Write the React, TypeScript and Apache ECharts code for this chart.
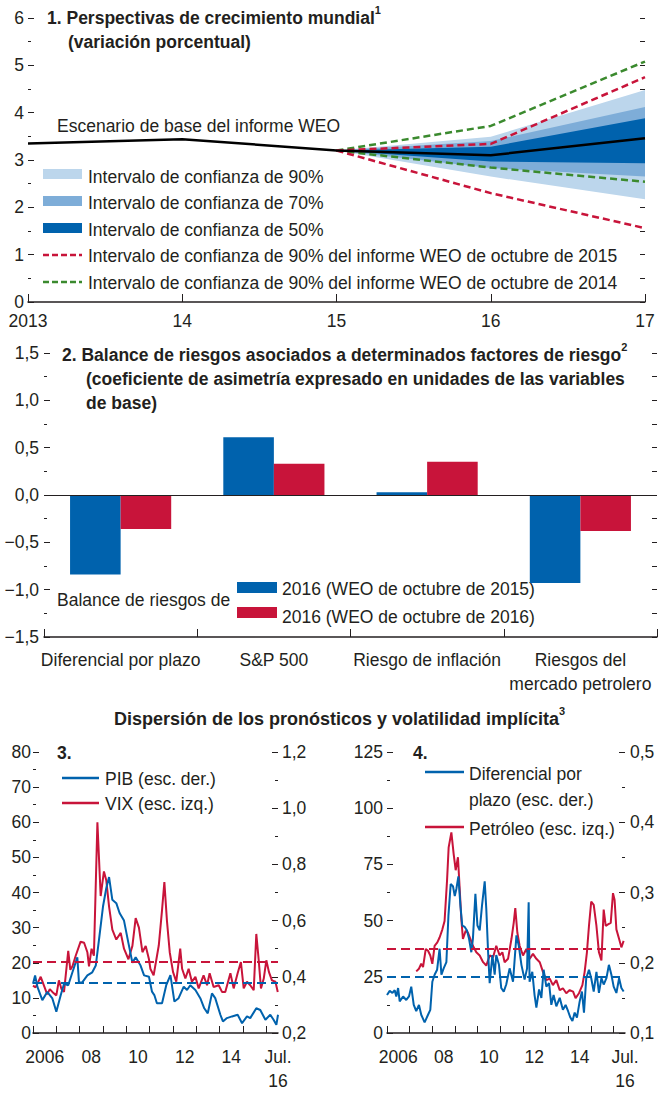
import React, { useEffect, useRef } from 'react';
import * as echarts from 'echarts';

// ---------- Panel 1: world growth prospects ----------
const years1 = [2013, 2014, 2015, 2016, 2017];
const yearLabels1 = ['2013', '14', '15', '16', '17'];
const baseline = [3.35, 3.44, 3.2, 3.1, 3.46];
const fanYears = [2015, 2016, 2017];
const ci90Low = [3.2, 2.65, 2.17];
const ci70Low = [3.2, 2.83, 2.65];
const ci50Low = [3.2, 2.97, 2.93];
const ci50High = [3.2, 3.28, 3.88];
const ci70High = [3.2, 3.4, 4.12];
const ci90High = [3.2, 3.49, 4.48];
const weo2015Low = [3.2, 2.3, 1.56];
const weo2015High = [3.2, 3.34, 4.75];
const weo2014Low = [3.2, 2.84, 2.54];
const weo2014High = [3.2, 3.72, 5.08];

// ---------- Panel 2: balance of risks ----------
const riskCategories = ['Diferencial por plazo', 'S&P 500', 'Riesgo de inflación', 'Riesgos del\nmercado petrolero'];
const risksOct2015 = [-0.84, 0.61, 0.03, -0.93];
const risksOct2016 = [-0.36, 0.33, 0.35, -0.38];

// ---------- Panel 3 & 4: shared x ticks ----------
const yearTicks = [2006, 2007, 2008, 2009, 2010, 2011, 2012, 2013, 2014, 2015, 2016];
const yearLabelPos = [2006.5, 2008.5, 2010.5, 2012.5, 2014.5, 2016.5];
const yearLabels = ['2006', '08', '10', '12', '14', 'Jul.\n16'];

// ---------- Panel 3 ----------
const vixSeries = [
  [2006.0, 13.5], [2006.11, 13], [2006.22, 14.5], [2006.33, 16], [2006.47, 13.5], [2006.61, 11], [2006.72, 12.5], [2006.83, 11.7],
  [2007.0, 10.7], [2007.11, 15], [2007.22, 12.5], [2007.33, 11.7], [2007.51, 23.4], [2007.6, 18], [2007.69, 19], [2007.83, 22],
  [2008.04, 26], [2008.19, 25.7], [2008.33, 23], [2008.4, 19], [2008.51, 24], [2008.61, 22], [2008.76, 60], [2008.9, 39],
  [2009.04, 46], [2009.14, 43.5], [2009.26, 36], [2009.4, 29.4], [2009.57, 26.6], [2009.76, 28.5], [2009.9, 24],
  [2010.09, 21], [2010.26, 24.8], [2010.4, 32.7], [2010.54, 30], [2010.69, 23], [2010.83, 24.8], [2010.97, 21],
  [2011.03, 18.3], [2011.17, 16.4], [2011.39, 24.9], [2011.53, 35], [2011.63, 43], [2011.74, 32], [2011.86, 23],
  [2012.0, 17.4], [2012.14, 14.6], [2012.31, 24], [2012.39, 18.3], [2012.53, 15.5], [2012.67, 18.3], [2012.81, 14.6], [2012.96, 16],
  [2013.1, 12.7], [2013.31, 16.4], [2013.46, 13.6], [2013.57, 17], [2013.74, 13.1], [2013.96, 13.6],
  [2014.1, 11.7], [2014.24, 11.7], [2014.46, 17], [2014.6, 12.7], [2014.77, 17], [2014.91, 20.2],
  [2015.03, 12.7], [2015.17, 14.6], [2015.31, 13.6], [2015.46, 12.2], [2015.57, 28.2], [2015.67, 21], [2015.77, 12.7], [2015.89, 15.5],
  [2016.0, 20.7], [2016.11, 17.4], [2016.24, 15], [2016.39, 14.6], [2016.49, 11.7],
];
const gdpSeries = [
  [2006.0, 0.375], [2006.09, 0.405], [2006.19, 0.364], [2006.4, 0.317], [2006.61, 0.346], [2006.83, 0.323],
  [2007.0, 0.276], [2007.19, 0.335], [2007.33, 0.375], [2007.51, 0.37], [2007.69, 0.416], [2007.9, 0.469], [2007.97, 0.38],
  [2008.11, 0.38], [2008.33, 0.405], [2008.54, 0.416], [2008.69, 0.44], [2008.83, 0.533],
  [2009.0, 0.65], [2009.14, 0.715], [2009.26, 0.755], [2009.4, 0.674], [2009.57, 0.662], [2009.71, 0.627], [2009.9, 0.6],
  [2010.09, 0.52], [2010.26, 0.45], [2010.4, 0.47], [2010.61, 0.44], [2010.76, 0.405], [2010.97, 0.4],
  [2011.1, 0.347], [2011.2, 0.335], [2011.31, 0.306], [2011.53, 0.306], [2011.71, 0.37], [2011.89, 0.406],
  [2012.06, 0.312], [2012.24, 0.324], [2012.46, 0.365], [2012.6, 0.353], [2012.74, 0.37], [2012.96, 0.353],
  [2013.17, 0.324], [2013.34, 0.288], [2013.49, 0.27], [2013.67, 0.341], [2013.81, 0.324],
  [2014.03, 0.265], [2014.14, 0.241], [2014.31, 0.253], [2014.53, 0.259], [2014.77, 0.265], [2014.96, 0.235],
  [2015.17, 0.259], [2015.31, 0.253], [2015.57, 0.288], [2015.74, 0.282], [2015.96, 0.247],
  [2016.17, 0.265], [2016.31, 0.247], [2016.43, 0.229], [2016.5, 0.265],
];
const vixAverage = 20.4;
const gdpAverage = 0.38;

// ---------- Panel 4 ----------
const oilSeries = [
  [2007.29, 27.4], [2007.41, 28.6], [2007.51, 30.8], [2007.59, 29.3], [2007.71, 37.4], [2007.81, 36.6], [2007.91, 34.5],
  [2008.0, 30.8], [2008.1, 38.8], [2008.22, 40.3], [2008.32, 42.5], [2008.44, 46], [2008.54, 49.8], [2008.65, 68], [2008.72, 82.6], [2008.84, 89.2], [2008.94, 79.7],
  [2009.03, 72.4], [2009.13, 78.2], [2009.21, 63.6], [2009.28, 50.5], [2009.35, 41.8], [2009.47, 45.4], [2009.57, 44.7], [2009.68, 41.8], [2009.79, 38.8], [2009.94, 35.9],
  [2010.09, 34.5], [2010.24, 31.5], [2010.38, 30], [2010.53, 34.5], [2010.68, 33.7], [2010.82, 38.8], [2010.97, 34.5],
  [2011.09, 35.9], [2011.19, 31.5], [2011.34, 33], [2011.49, 41.8], [2011.59, 49], [2011.66, 55.6], [2011.75, 44.7], [2011.85, 38.8],
  [2012.0, 34.5], [2012.15, 37.4], [2012.29, 33], [2012.44, 35.2], [2012.59, 33], [2012.74, 31.5], [2012.88, 27.2],
  [2013.03, 23.5], [2013.18, 24.2], [2013.32, 21.3], [2013.47, 23.5], [2013.62, 19.1], [2013.76, 19.9], [2013.91, 17.7],
  [2014.06, 19.1], [2014.21, 18.4], [2014.32, 15.5], [2014.47, 17.7], [2014.62, 21.3], [2014.72, 27.2], [2014.82, 35.9], [2014.91, 47.6],
  [2015.01, 58.5], [2015.12, 57], [2015.24, 47.6], [2015.35, 35.9], [2015.46, 32.3], [2015.56, 54.9], [2015.65, 47.6], [2015.75, 48.3], [2015.87, 49], [2015.97, 62.2],
  [2016.04, 59.3], [2016.12, 46.1], [2016.24, 41.8], [2016.34, 38.1], [2016.44, 41],
];
const termSpreadSeries = [
  [2006.0, 0.154], [2006.12, 0.16], [2006.24, 0.157], [2006.34, 0.161], [2006.41, 0.152], [2006.49, 0.164], [2006.56, 0.145], [2006.71, 0.152], [2006.85, 0.147], [2006.97, 0.152],
  [2007.07, 0.166], [2007.18, 0.14], [2007.29, 0.131], [2007.41, 0.14], [2007.51, 0.126], [2007.66, 0.115], [2007.81, 0.126], [2007.91, 0.133],
  [2008.0, 0.173], [2008.1, 0.183], [2008.21, 0.19], [2008.32, 0.22], [2008.4, 0.183], [2008.5, 0.192], [2008.62, 0.201], [2008.71, 0.267], [2008.81, 0.312], [2008.91, 0.309], [2008.99, 0.295],
  [2009.06, 0.305], [2009.15, 0.323], [2009.24, 0.281], [2009.32, 0.253], [2009.43, 0.251], [2009.53, 0.246], [2009.62, 0.234], [2009.72, 0.215], [2009.79, 0.234], [2009.9, 0.298], [2009.99, 0.253],
  [2010.09, 0.246], [2010.19, 0.281], [2010.31, 0.316], [2010.38, 0.277], [2010.46, 0.215], [2010.53, 0.171], [2010.65, 0.211], [2010.75, 0.183], [2010.82, 0.211], [2010.94, 0.197],
  [2011.04, 0.164], [2011.15, 0.159], [2011.26, 0.169], [2011.41, 0.192], [2011.56, 0.173], [2011.71, 0.239], [2011.81, 0.225], [2011.93, 0.197],
  [2012.07, 0.176], [2012.18, 0.192], [2012.25, 0.286], [2012.29, 0.173], [2012.41, 0.187], [2012.51, 0.154], [2012.59, 0.136], [2012.71, 0.162], [2012.81, 0.15], [2012.91, 0.19],
  [2013.03, 0.166], [2013.15, 0.171], [2013.25, 0.14], [2013.35, 0.154], [2013.47, 0.138], [2013.62, 0.15], [2013.76, 0.133], [2013.88, 0.14], [2013.99, 0.131],
  [2014.09, 0.122], [2014.18, 0.117], [2014.28, 0.129], [2014.38, 0.122], [2014.5, 0.145], [2014.6, 0.159], [2014.69, 0.129], [2014.79, 0.178], [2014.91, 0.19],
  [2015.01, 0.178], [2015.12, 0.159], [2015.24, 0.187], [2015.35, 0.157], [2015.46, 0.178], [2015.56, 0.169], [2015.68, 0.178], [2015.79, 0.197], [2015.9, 0.183],
  [2016.0, 0.166], [2016.12, 0.157], [2016.24, 0.178], [2016.34, 0.164], [2016.44, 0.159],
];
const oilAverage = 37.5;
const termSpreadAverage = 0.18;

// ---------- styling ----------
const FONT = "'Liberation Sans', Arial, sans-serif";
const TXT = '#231f20';
const BLUE = '#0062ad';
const RED = '#c8143a';
const GREEN = '#3b8a2e';
const LIGHT = '#bcd6ec';
const MID = '#7eadd8';
const DARK = '#0062ad';
const FS = 17.5;

const fanBands = [
  { upper: ci90High, lower: ci90Low, color: LIGHT },
  { upper: ci70High, lower: ci70Low, color: MID },
  { upper: ci50High, lower: ci50Low, color: DARK },
];

const zip = (xs: number[], ys: number[]) => xs.map((x, i) => [x, ys[i]]);
const comma = (v: number, d: number) => v.toFixed(d).replace('.', ',').replace('-', '\u2212');

const lbl = (extra: any = {}) => ({ fontFamily: FONT, fontSize: FS, color: TXT, ...extra });
const tickStyle = { color: TXT, width: 1 };

const text = (x: number, y: number, t: string, opts: any = {}) => ({
  type: 'text',
  x,
  y,
  silent: true,
  style: {
    text: t,
    fontFamily: FONT,
    fontSize: opts.size || FS,
    fontWeight: opts.bold ? 'bold' : 'normal',
    fill: TXT,
    textVerticalAlign: 'middle',
    verticalAlign: 'middle',
    textAlign: opts.align || 'left',
    align: opts.align || 'left',
    ...(opts.rich ? { rich: opts.rich } : {}),
  },
});

const supRich = (size = FS) => ({
  t: { fontFamily: FONT, fontSize: size, fontWeight: 'bold', fill: TXT, color: TXT, lineHeight: 28 },
  s: { fontFamily: FONT, fontSize: 11, fontWeight: 'bold', fill: TXT, color: TXT, verticalAlign: 'top', lineHeight: 10 },
});

const rect = (x: number, y: number, w: number, h: number, color: string) => ({
  type: 'rect', silent: true, shape: { x, y, width: w, height: h }, style: { fill: color },
});
const seg = (x1: number, x2: number, y: number, color: string, dash?: number[]) => ({
  type: 'line', silent: true, shape: { x1, y1: y, x2, y2: y },
  style: { stroke: color, lineWidth: 2.5, ...(dash ? { lineDash: dash } : {}) },
});

function buildOption(): any {
  const dashed = (vals: number[], color: string) => ({
    type: 'line', xAxisIndex: 0, yAxisIndex: 0, symbol: 'none', silent: true,
    data: zip(fanYears, vals), lineStyle: { color, width: 2.5, type: [7, 4] },
  });
  const avgLine = (value: number, color: string) => ({
    symbol: ['none', 'none'], silent: true, label: { show: false },
    lineStyle: { color, width: 2, type: [9, 5] }, data: [{ yAxis: value }],
  });

  const yearAxis = (gridIndex: number) => ({
    gridIndex, type: 'value', min: 2006, max: 2016.5,
    axisLine: { show: true, onZero: false, lineStyle: { color: TXT, width: 1.5 } },
    axisTick: { show: true, inside: true, length: 7, lineStyle: tickStyle, customValues: yearTicks },
    axisLabel: {
      ...lbl(), margin: 12, lineHeight: 24, customValues: yearLabelPos, showMinLabel: true, showMaxLabel: true,
      formatter: (v: number) => { const i = yearLabelPos.findIndex((p) => Math.abs(p - v) < 1e-6); return i >= 0 ? yearLabels[i] : ''; },
    },
    splitLine: { show: false },
  });
  const valAxis = (gridIndex: number, position: string, min: number, max: number, interval: number, fmt: any, margin: number, showLabel = true) => ({
    gridIndex, type: 'value', position, min, max, interval,
    axisLine: { show: false },
    axisTick: { show: true, inside: true, length: 6, lineStyle: tickStyle },
    minorTick: { show: showLabel, splitNumber: 2, length: 3, lineStyle: tickStyle },
    axisLabel: { ...lbl(), show: showLabel, margin, formatter: fmt },
    splitLine: { show: false }, minorSplitLine: { show: false },
  });

  return {
    animation: false,
    textStyle: { fontFamily: FONT, color: TXT },
    grid: [
      { left: 28, right: 14, top: 18, height: 284 },
      { left: 44, right: 2, top: 353, height: 284 },
      { left: 33, right: 381, top: 752, height: 284 },
      { left: 387, right: 34, top: 752, height: 284 },
    ],
    xAxis: [
      {
        gridIndex: 0, type: 'value', min: 2013, max: 2017, interval: 1,
        axisLine: { show: true, onZero: false, lineStyle: { color: TXT, width: 1.5 } },
        axisTick: { show: true, inside: true, length: 8, lineStyle: tickStyle },
        axisLabel: { ...lbl(), margin: 10, formatter: (v: number) => { const i = years1.indexOf(v); return i >= 0 ? yearLabels1[i] : ''; } },
        splitLine: { show: false },
      },
      {
        gridIndex: 1, type: 'category', data: riskCategories,
        axisLine: { show: true, onZero: false, lineStyle: { color: TXT, width: 1.5 } },
        axisTick: { show: true, inside: true, length: 8, alignWithLabel: false, lineStyle: tickStyle },
        axisLabel: { ...lbl(), margin: 11, lineHeight: 24, interval: 0 },
        splitLine: { show: false },
      },
      yearAxis(2),
      yearAxis(3),
    ],
    yAxis: [
      valAxis(0, 'left', 0, 6, 1, (v: number) => String(v), 4),
      { ...valAxis(0, 'right', 0, 6, 0.5, null, 4, false), axisTick: { show: true, inside: true, length: 5, lineStyle: tickStyle } },
      valAxis(1, 'left', -1.5, 1.5, 0.5, (v: number) => comma(v, 1), 5),
      { ...valAxis(1, 'right', -1.5, 1.5, 0.25, null, 4, false), axisTick: { show: true, inside: true, length: 5, lineStyle: tickStyle } },
      valAxis(2, 'left', 0, 80, 10, (v: number) => String(v), 2),
      valAxis(2, 'right', 0.2, 1.2, 0.2, (v: number) => comma(v, 1), 4),
      valAxis(3, 'left', 0, 125, 25, (v: number) => String(v), 4),
      valAxis(3, 'right', 0.1, 0.5, 0.1, (v: number) => comma(v, 1), 5),
    ],
    series: [
      // panel 1: fan chart drawn as polygons between lower and upper bounds
      {
        type: 'custom', xAxisIndex: 0, yAxisIndex: 0, silent: true,
        data: fanBands.map((b) => [fanYears[0], b.lower[0]]),
        renderItem: (params: any, api: any) => {
          const b = fanBands[params.dataIndex];
          const up = b.upper.map((v, i) => api.coord([fanYears[i], v]));
          const lo = b.lower.map((v, i) => api.coord([fanYears[i], v])).reverse();
          return { type: 'polygon', shape: { points: up.concat(lo) }, style: { fill: b.color } };
        },
      },
      dashed(weo2014High, GREEN),
      dashed(weo2014Low, GREEN),
      dashed(weo2015High, RED),
      dashed(weo2015Low, RED),
      {
        type: 'line', xAxisIndex: 0, yAxisIndex: 0, symbol: 'none', silent: true,
        data: zip(years1, baseline), lineStyle: { color: '#000', width: 2.5 },
      },
      // panel 2
      {
        type: 'bar', xAxisIndex: 1, yAxisIndex: 2, data: risksOct2015, barGap: '0%', barCategoryGap: '34%',
        itemStyle: { color: BLUE }, silent: true,
        markLine: { symbol: ['none', 'none'], silent: true, label: { show: false }, lineStyle: { color: TXT, width: 1, type: 'solid' }, data: [{ yAxis: 0 }] },
      },
      { type: 'bar', xAxisIndex: 1, yAxisIndex: 2, data: risksOct2016, barGap: '0%', barCategoryGap: '34%', itemStyle: { color: RED }, silent: true },
      // panel 3
      {
        type: 'line', xAxisIndex: 2, yAxisIndex: 4, data: vixSeries, symbol: 'none', silent: true,
        lineStyle: { color: RED, width: 2 }, markLine: avgLine(vixAverage, RED),
      },
      {
        type: 'line', xAxisIndex: 2, yAxisIndex: 5, data: gdpSeries, symbol: 'none', silent: true,
        lineStyle: { color: BLUE, width: 2 }, markLine: avgLine(gdpAverage, BLUE),
      },
      // panel 4
      {
        type: 'line', xAxisIndex: 3, yAxisIndex: 6, data: oilSeries, symbol: 'none', silent: true,
        lineStyle: { color: RED, width: 2 }, markLine: avgLine(oilAverage, RED),
      },
      {
        type: 'line', xAxisIndex: 3, yAxisIndex: 7, data: termSpreadSeries, symbol: 'none', silent: true,
        lineStyle: { color: BLUE, width: 2 }, markLine: avgLine(termSpreadAverage, BLUE),
      },
    ],
    graphic: [
      // panel 1 title & labels
      text(47, 18, '{t|1. Perspectivas de crecimiento mundial}{s|1}', { bold: true, rich: supRich() }),
      text(68, 42, '(variación porcentual)', { bold: true }),
      text(57, 126, 'Escenario de base del informe WEO'),
      rect(43, 169, 39, 10, LIGHT),
      rect(43, 196, 39, 10, MID),
      rect(43, 223, 39, 10, DARK),
      seg(43, 82, 255, RED, [6, 3]),
      seg(43, 82, 282, GREEN, [6, 3]),
      text(88, 177, 'Intervalo de confianza de 90%'),
      text(88, 203, 'Intervalo de confianza de 70%'),
      text(88, 230, 'Intervalo de confianza de 50%'),
      text(88, 256, 'Intervalo de confianza de 90% del informe WEO de octubre de 2015'),
      text(88, 283, 'Intervalo de confianza de 90% del informe WEO de octubre de 2014'),
      // panel 2
      text(62, 355, '{t|2. Balance de riesgos asociados a determinados factores de riesgo}{s|2}', { bold: true, rich: supRich() }),
      text(86, 379, '(coeficiente de asimetría expresado en unidades de las variables', { bold: true }),
      text(86, 403, 'de base)', { bold: true }),
      text(57, 600, 'Balance de riesgos de'),
      rect(237, 582, 40, 11, BLUE),
      rect(237, 607, 40, 11, RED),
      text(282, 589, '2016 (WEO de octubre de 2015)'),
      text(282, 617, '2016 (WEO de octubre de 2016)'),
      // section title
      text(114, 719, '{t|Dispersión de los pronósticos y volatilidad implícita}{s|3}', { bold: true, rich: supRich(18) }),
      // panel 3
      text(57, 753, '3.', { bold: true }),
      seg(62, 99, 778, BLUE),
      seg(62, 99, 803, RED),
      text(105, 779, 'PIB (esc. der.)'),
      text(105, 804, 'VIX (esc. izq.)'),
      // panel 4
      text(413, 753, '4.', { bold: true }),
      seg(425, 464, 772, BLUE),
      seg(425, 464, 827, RED),
      text(469, 774, 'Diferencial por'),
      text(469, 800, 'plazo (esc. der.)'),
      text(469, 829, 'Petróleo (esc. izq.)'),
    ],
  };
}

export default function App() {
  const ref = useRef<HTMLDivElement>(null);
  useEffect(() => {
    document.body.style.margin = '0';
    if (!ref.current) return;
    const chart = echarts.init(ref.current, undefined, { renderer: 'svg' });
    chart.setOption(buildOption());
    return () => chart.dispose();
  }, []);
  return <div ref={ref} style={{ width: 659, height: 1093, background: '#fff' }} />;
}
